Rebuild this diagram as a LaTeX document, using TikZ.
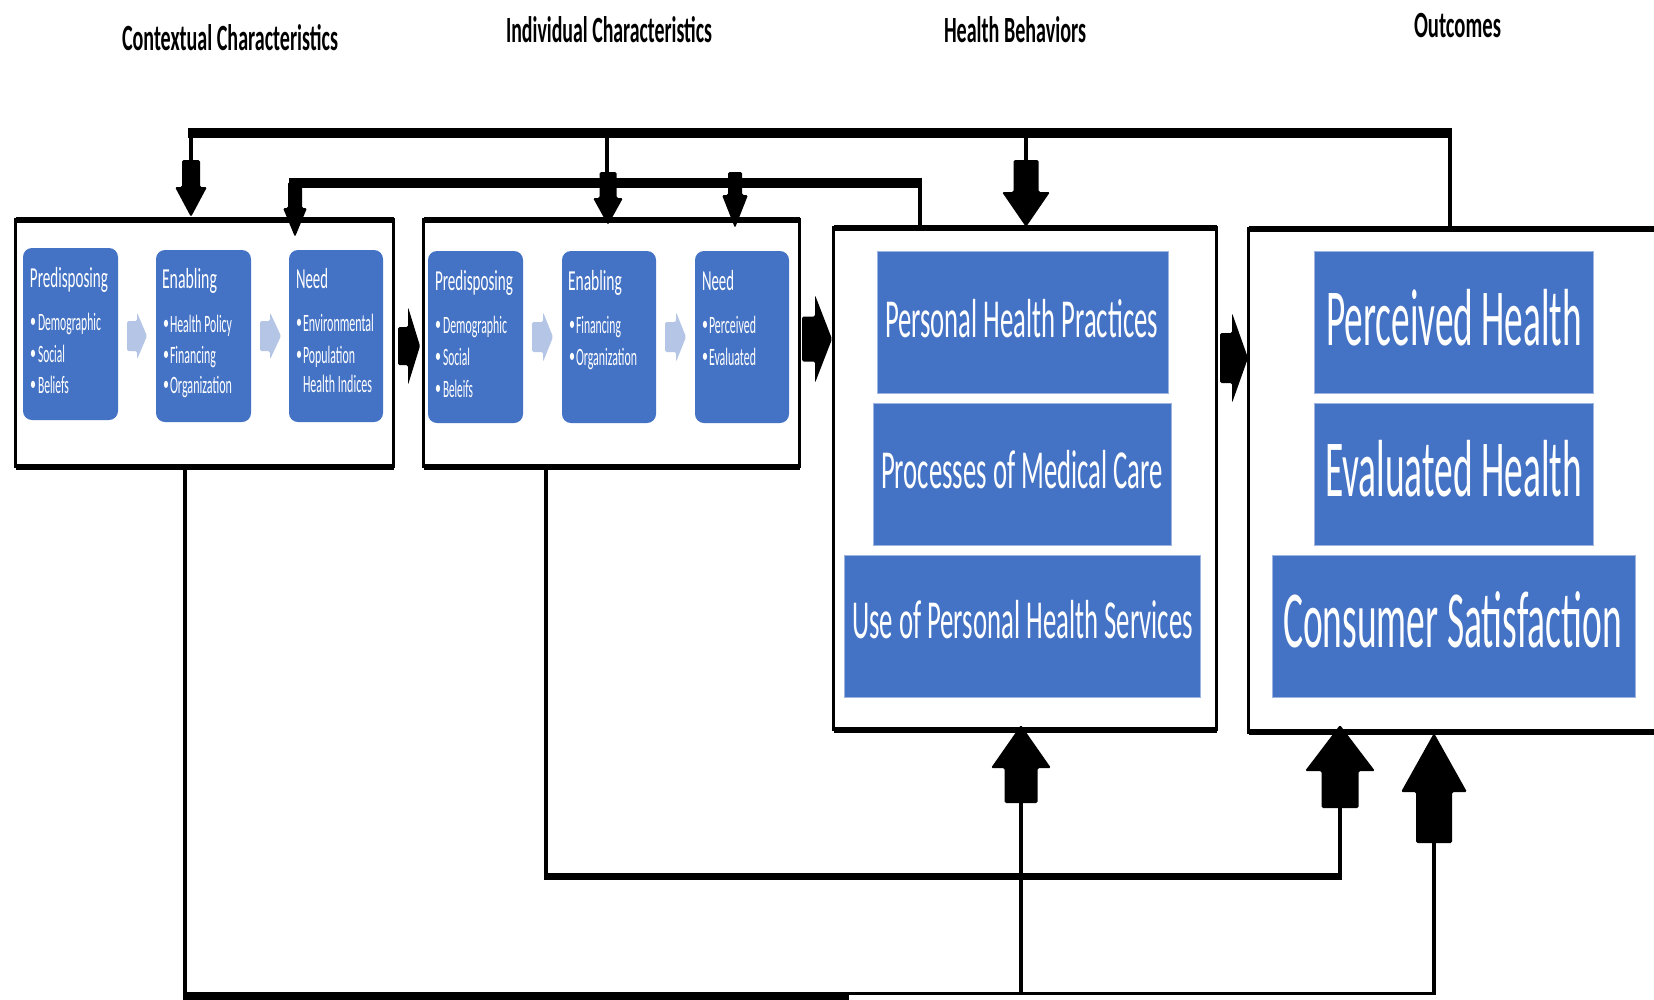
\documentclass[tikz,border=0pt]{standalone}
\usepackage{fontspec}
\setmainfont{Carlito}
\usepackage{graphicx}
\usetikzlibrary{calc}
\definecolor{pblue}{HTML}{4472C4}
\definecolor{lblue}{HTML}{B4C5E6}
\definecolor{rimblue}{HTML}{9DB3E0}
\newlength\fitlen
\newcommand\fitw[2]{\settowidth\fitlen{#2}\pgfmathsetmacro\fitr{#1/\fitlen}\scalebox{\fitr}[1]{#2}}
% block arrows: [colour]{tip}{shaft half}{head half}{head length}{total length}
\newcommand\arrD[6][black]{\fill[#1,rounded corners=1.5pt,shift={(#2)}] (0,0) -- (-#4,-#5) -- (-#3,-#5) -- (-#3,-#6) -- (#3,-#6) -- (#3,-#5) -- (#4,-#5) -- cycle;}
\newcommand\arrU[6][black]{\fill[#1,rounded corners=1.5pt,shift={(#2)}] (0,0) -- (-#4,#5) -- (-#3,#5) -- (-#3,#6) -- (#3,#6) -- (#3,#5) -- (#4,#5) -- cycle;}
\newcommand\arrR[6][black]{\fill[#1,rounded corners=1.5pt,shift={(#2)}] (0,0) -- (-#5,-#4) -- (-#5,-#3) -- (-#6,-#3) -- (-#6,#3) -- (-#5,#3) -- (-#5,#4) -- cycle;}
% text line: style, name, position, size, width, text
\newcommand\tl[6]{\node[#1] (#2) at (#3) {\fontsize{#4}{#4}\selectfont\fitw{#5}{#6}};}
% bullet line: name, x bullet, x text, baseline, width, text
\newcommand\bl[6]{\node[txt] (#1) at (#3,#4) {\fontsize{25}{25}\selectfont\fitw{#5}{#6}};
  \node[txt] (#1b) at (#2-2,#4) {\fontsize{20}{20}\selectfont\raisebox{3pt}{\scalebox{0.6}[1]{\textbullet}}};}
\tikzset{
  frame/.style={draw, line width=3.5pt, inner sep=0, outer sep=0, fill=white},
  hedge/.style={line width=6pt},
  rbox/.style={fill=pblue, rounded corners=9pt, inner sep=0, outer sep=0},
  sbox/.style={fill=pblue, draw=rimblue, line width=1pt, inner sep=0, outer sep=0},
  hline/.style={line width=10pt},
  bline/.style={line width=7pt},
  vline/.style={line width=4pt},
  txt/.style={inner sep=0, outer sep=0, anchor=base west, text=white},
  ttl/.style={inner sep=0, outer sep=0, anchor=base west, font=\bfseries},
}
\begin{document}
\begin{tikzpicture}[x=1pt,y=-1pt]
\useasboundingbox (0,0) rectangle (1654,999);
\clip (0,0) rectangle (1654,999);
\fill[white] (0,0) rectangle (1654,999);

% titles
\tl{ttl}{tc}{122,50}{37}{216}{Contextual Characteristics}
\tl{ttl}{ti}{506,42}{37}{206}{Individual Characteristics}
\tl{ttl}{th}{944,42}{37}{142}{Health Behaviors}
\tl{ttl}{to}{1414,37}{37}{87}{Outcomes}

% frames
\node[frame, minimum width=378pt, minimum height=246.5pt] (b1) at (204.5,343.25) {};
\node[frame, minimum width=376pt, minimum height=247pt] (b2) at (611.5,343) {};
\node[frame, minimum width=383pt, minimum height=502pt] (b3) at (1025,478.5) {};
\node[frame, minimum width=451.5pt, minimum height=503pt] (b4) at (1474.25,480.5) {};
\foreach \bx in {b1,b2,b3,b4}{
  \draw[hedge] (\bx.north west) -- (\bx.north east);
  \draw[hedge] (\bx.south west) -- (\bx.south east);
}

% inner rounded boxes
\node[rbox, minimum width=95pt, minimum height=172pt] (p1) at (70.5,334) {};
\node[rbox, minimum width=95pt, minimum height=172pt] (e1) at (203.5,336) {};
\node[rbox, minimum width=94pt, minimum height=172pt] (n1) at (336,336) {};
\node[rbox, minimum width=95pt, minimum height=172pt] (p2) at (475.5,337) {};
\node[rbox, minimum width=94pt, minimum height=172pt] (e2) at (609,337) {};
\node[rbox, minimum width=94pt, minimum height=172pt] (n2) at (742,337) {};

% light arrows between inner boxes
\coordinate (la1) at (147,336); \coordinate (la2) at (281,336);
\coordinate (la3) at (553,337); \coordinate (la4) at (686,337);
\arrR[lblue]{la1}{15}{23.5}{10}{20}
\arrR[lblue]{la2}{15}{23.5}{11}{21}
\arrR[lblue]{la3}{15}{25}{10}{21}
\arrR[lblue]{la4}{15}{25}{10}{21}

% texts box 1
\tl{txt}{p1t}{30,287}{29}{78}{Predisposing}
\bl{p1a}{32}{38}{330}{63}{Demographic}
\bl{p1c}{32}{38}{362}{27}{Social}
\bl{p1d}{32}{38}{393}{31}{Beliefs}
\tl{txt}{e1t}{162,288}{29}{55}{Enabling}
\bl{e1a}{165}{170}{332}{62}{Health Policy}
\bl{e1c}{165}{170}{363}{46}{Financing}
\bl{e1d}{165}{170}{393}{62}{Organization}
\tl{txt}{n1t}{296,288}{29}{32}{Need}
\bl{n1a}{298}{303}{331}{71}{Environmental}
\bl{n1c}{298}{303}{363}{52}{Population}
\tl{txt}{n1d}{303,392}{25}{69}{Health Indices}

% texts box 2
\tl{txt}{p2t}{435,290}{29}{78}{Predisposing}
\bl{p2a}{437}{443}{333}{64}{Demographic}
\bl{p2c}{437}{443}{365}{27}{Social}
\bl{p2d}{437}{443}{397}{30}{Beleifs}
\tl{txt}{e2t}{568,290}{29}{54}{Enabling}
\bl{e2a}{571}{576}{333}{45}{Financing}
\bl{e2c}{571}{576}{365}{61}{Organization}
\tl{txt}{n2t}{702,290}{29}{32}{Need}
\bl{n2a}{704}{709}{333}{47}{Perceived}
\bl{n2c}{704}{709}{365}{47}{Evaluated}

% health behaviors
\node[sbox, minimum width=291pt, minimum height=142pt] (php) at (1022.5,322) {};
\node[sbox, minimum width=298pt, minimum height=142pt] (pmc) at (1022,474) {};
\node[sbox, minimum width=356pt, minimum height=142pt] (ups) at (1022,626) {};
\tl{txt}{phpt}{885,337}{55}{273}{Personal Health Practices}
\tl{txt}{pmct}{881,488}{55}{282}{Processes of Medical Care}
\tl{txt}{upst}{852,638}{55}{341}{Use of Personal Health Services}

% outcomes
\node[sbox, minimum width=279pt, minimum height=142pt] (ph) at (1453.5,322) {};
\node[sbox, minimum width=279pt, minimum height=142pt] (eh) at (1453.5,474) {};
\node[sbox, minimum width=363pt, minimum height=142pt] (cs) at (1453.5,626) {};
\tl{txt}{pht}{1326,345}{81}{256}{Perceived Health}
\tl{txt}{eht}{1325,496}{81}{257}{Evaluated Health}
\tl{txt}{cst}{1283,647}{81}{339}{Consumer Satisfaction}

% arrows between frames
\coordinate (r1) at (420,346); \coordinate (r2) at (832,339); \coordinate (r3) at (1248,358);
\arrR{r1}{19}{39}{12}{22}
\arrR{r2}{22.5}{44}{17}{30}
\arrR{r3}{25}{45}{16}{28}

% top connector 1
\coordinate (T1w) at (188,133); \coordinate (T1e) at (1452,133);
\draw[hline] (T1w) -- (T1e);
\coordinate (d1tip) at (191,217); \coordinate (d1tail) at (191,161);
\coordinate (d3tip) at (608,225); \coordinate (d3tail) at (607,173);
\coordinate (d5tip) at (1026,227); \coordinate (d5tail) at (1026,161);
\draw[vline] ([yshift=5pt]d1tail |- T1w) -- (d1tail);
\draw[vline] ([yshift=5pt]d3tail |- T1w) -- (d3tail);
\draw[vline] ([yshift=5pt]d5tail |- T1w) -- (d5tail);
\coordinate (T1d) at (1450,128);
\draw[vline] (T1d) -- (T1d |- b4.north);
\arrD{d1tip}{9}{16}{30}{57}
\arrD{d3tip}{8.5}{15}{27}{53}
\arrD{d5tip}{12.5}{24}{35}{67}

% top connector 2
\coordinate (T2w) at (289,183); \coordinate (T2e) at (922,183);
\draw[hline] (T2w) -- (T2e);
\coordinate (T2d) at (920,178);
\draw[vline] (T2d) -- (T2d |- b3.north);
\coordinate (d2tip) at (295,237); \coordinate (d4tip) at (735,228);
\arrD{d2tip}{7}{12}{29}{55}
\arrD{d4tip}{7}{13}{33}{56}

% bottom connectors
\coordinate (Lx) at (185,995);
\draw[vline] (Lx |- b1.south) -- (Lx);
\coordinate (Bthick) at (849,996);
\draw[line width=8pt] (183,996) -- (Bthick);
\coordinate (B1e) at (1436,993.5);
\draw[line width=3.5pt] (Bthick |- B1e) -- (B1e);
\coordinate (Mx) at (546,880);
\draw[vline] (Mx |- b2.south) -- (Mx);
\coordinate (B2w) at (544,876.5); \coordinate (B2e) at (1342,876.5);
\draw[bline] (B2w) -- (B2e);
\coordinate (u1tip) at (1021,725); \coordinate (u1tail) at (1021,802);
\coordinate (u2tip) at (1340,725); \coordinate (u2tail) at (1340,807);
\coordinate (u3tip) at (1434,733); \coordinate (u3tail) at (1434,842);
\draw[vline] (u1tail |- B1e) -- (u1tail);
\draw[vline] ([yshift=-3.5pt]u2tail |- B2e) -- (u2tail);
\draw[vline] (u3tail |- B1e) -- (u3tail);
\arrU{u1tip}{16.5}{30}{43}{78}
\arrU{u2tip}{18.5}{35}{46}{83}
\arrU{u3tip}{18}{33}{59}{110}
\end{tikzpicture}
\end{document}
